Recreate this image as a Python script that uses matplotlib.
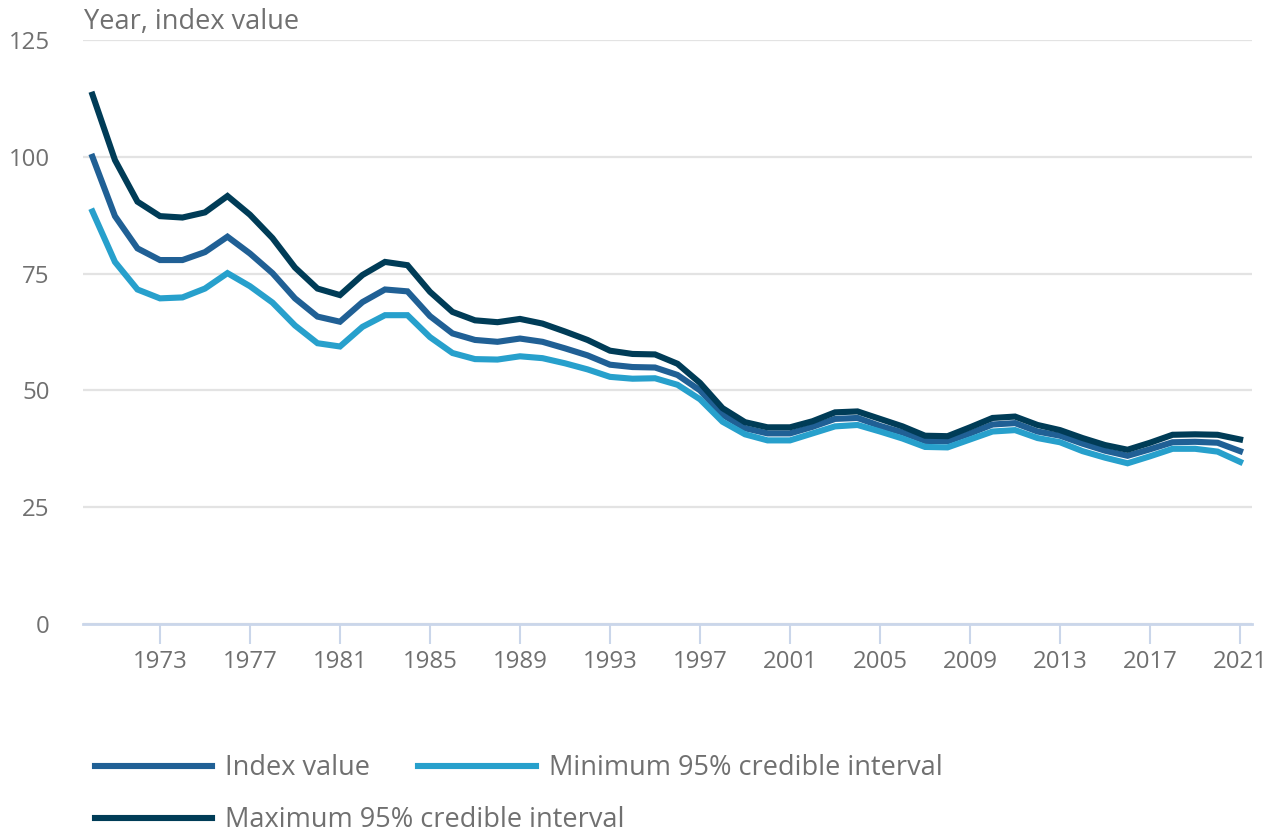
import matplotlib
matplotlib.use("Agg")
import matplotlib.pyplot as plt
import numpy as np

plt.rcParams['font.family'] = ['Open Sans', 'DejaVu Sans']

years = list(range(1970, 2022))

index_value = [100.0, 87.3, 80.4, 77.9, 77.9, 79.6, 82.9, 79.3, 75.1, 69.7,
               65.8, 64.7, 68.9, 71.6, 71.2, 65.9, 62.2, 60.8, 60.4, 61.1,
               60.4, 59.0, 57.5, 55.5, 55.0, 54.9, 53.3, 50.0, 44.8, 41.9,
               40.8, 40.8, 42.2, 43.9, 44.1, 42.4, 41.0, 39.2, 39.1, 40.8,
               42.7, 43.0, 41.2, 40.3, 38.6, 37.1, 36.0, 37.4, 38.9, 39.0,
               38.8, 37.0]

min_95 = [88.3, 77.5, 71.6, 69.7, 69.9, 71.8, 75.1, 72.3, 68.8, 63.9,
          60.1, 59.4, 63.6, 66.1, 66.1, 61.4, 58.0, 56.7, 56.6, 57.3,
          56.9, 55.8, 54.5, 52.9, 52.5, 52.6, 51.2, 48.1, 43.3, 40.6,
          39.3, 39.3, 40.8, 42.3, 42.6, 41.2, 39.7, 37.9, 37.8, 39.5,
          41.2, 41.5, 39.8, 38.9, 37.0, 35.6, 34.4, 35.9, 37.5, 37.5,
          36.9, 34.7]

max_95 = [113.3, 99.3, 90.4, 87.3, 87.0, 88.1, 91.6, 87.6, 82.6, 76.3,
          71.8, 70.4, 74.7, 77.5, 76.8, 71.1, 66.8, 65.0, 64.6, 65.3,
          64.3, 62.6, 60.8, 58.5, 57.8, 57.7, 55.7, 51.6, 46.2, 43.2,
          42.1, 42.1, 43.4, 45.3, 45.5, 43.9, 42.3, 40.3, 40.2, 42.1,
          44.1, 44.4, 42.6, 41.5, 39.8, 38.3, 37.3, 38.8, 40.5, 40.6,
          40.5, 39.5]

y_ticks = [0, 25, 50, 75, 100, 125]
x_ticks = list(range(1973, 2022, 4))

text_col = '#707070'
axis_col = '#cad6ea'
grid_col = '#e3e3e3'

fig = plt.figure(figsize=(12.76, 8.32), dpi=100)
ax = fig.add_axes([83 / 1276, 1 - 624 / 832, (1252 - 83) / 1276, (624 - 40) / 832])

l_idx, = ax.plot(years, index_value, color='#206095', lw=4.4, label='Index value',
                 solid_joinstyle='miter', zorder=3)
l_min, = ax.plot(years, min_95, color='#27a0cc', lw=4.4, label='Minimum 95% credible interval',
                 solid_joinstyle='miter', zorder=3)
l_max, = ax.plot(years, max_95, color='#003c57', lw=4.4, label='Maximum 95% credible interval',
                 solid_joinstyle='miter', zorder=3)

ax.set_xlim(1969.58, 2021.53)
ax.set_ylim(0, 125)
ax.set_yticks(y_ticks)
ax.set_xticks(x_ticks)

ax.yaxis.grid(True, color=grid_col, lw=1.6)
ax.set_axisbelow(True)
for s in ['top', 'right', 'left']:
    ax.spines[s].set_visible(False)
ax.spines['bottom'].set_color(axis_col)
ax.spines['bottom'].set_linewidth(2.0)
ax.spines['bottom'].set_zorder(2)

ax.tick_params(axis='y', length=0, pad=24, labelsize=17.3, labelcolor=text_col)
ax.tick_params(axis='x', length=14.5, width=1.5, color=axis_col, pad=4,
               labelsize=17.3, labelcolor=text_col)

fig.text(84 / 1276, 1 - 22 / 832, 'Year, index value', fontsize=19.5, color=text_col,
         ha='left', va='center')

leg_kw = dict(loc='center left', frameon=False, fontsize=19.5, handlelength=4.33,
              handletextpad=0.48, columnspacing=1.78, borderaxespad=0, borderpad=0,
              labelcolor=text_col)
leg1 = fig.legend([l_idx, l_min], ['Index value', 'Minimum 95% credible interval'],
                  ncol=2, bbox_to_anchor=(95 / 1276, 1 - 768 / 832), **leg_kw)
leg2 = fig.legend([l_max], ['Maximum 95% credible interval'],
                  bbox_to_anchor=(95 / 1276, 1 - 820 / 832), **leg_kw)
for lg in (leg1, leg2):
    for h in lg.legend_handles:
        h.set_linewidth(4.4)

fig.savefig('out.png', dpi=100)
